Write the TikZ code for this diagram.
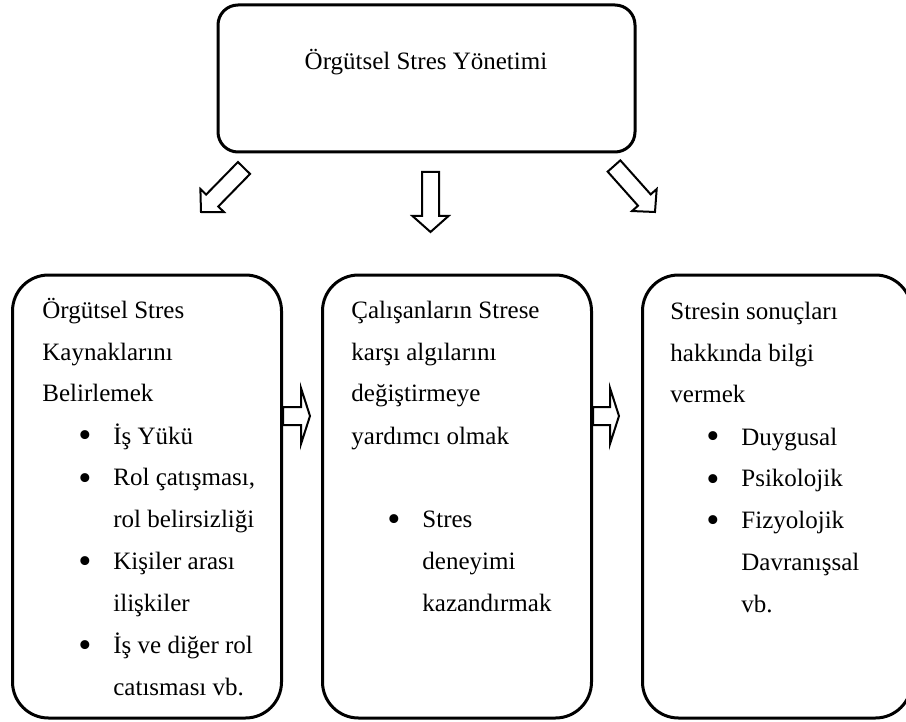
\documentclass[tikz,border=0pt]{standalone}
\usepackage{fontspec}
\usepackage{graphicx}
\setmainfont{Liberation Serif}
\usetikzlibrary{positioning, calc}

% bullet line and its continuation inside a box
\newcommand{\bigdot}{\raisebox{-2pt}{\scalebox{1.5}{\textbullet}}}
\newcommand{\itm}[1]{\hspace*{18pt}\makebox[17.5pt][l]{\bigdot}#1}
\newcommand{\cnt}[1]{\hspace*{35.5pt}#1}

% hollow block arrow: from, tip, shaft half width, head half width, head length
\newcommand{\hollowarrow}[5]{%
  \draw[blockarrow] ($(#1)!#3!90:(#2)$)
    -- ($(#2)!#5!(#1)!#3!90:(#2)$)
    -- ($(#2)!#5!(#1)!#4!90:(#2)$)
    -- (#2)
    -- ($(#2)!#5!(#1)!#4!-90:(#2)$)
    -- ($(#2)!#5!(#1)!#3!-90:(#2)$)
    -- ($(#1)!#3!-90:(#2)$) -- cycle;}

\begin{document}
\begin{tikzpicture}[
    x=0.5pt, y=-0.5pt,
    txt/.style={font=\fontsize{12.5}{21}\selectfont, inner sep=0pt},
    box/.style={rectangle, draw, line width=1.5pt, inner sep=0pt},
    topbox/.style={box, rounded corners=10pt,
                   minimum width=208.5pt, minimum height=73.5pt},
    colbox/.style={box, rounded corners=18pt,
                   minimum width=134.5pt, minimum height=221.5pt},
    blockarrow/.style={draw, line width=1pt, line join=miter},
]
\useasboundingbox (0,0) rectangle (906,722);

% --- top box ---
\node[topbox] (top) at (426.5,78.5) {};
\node[txt, anchor=base] (toptext) at (426,70) {Örgütsel Stres Yönetimi};

% --- three column boxes ---
\node[colbox] (left) at (147,496.5) {};
\node[colbox] (mid) at (457,496.5) {};
\node[colbox] (right) at (777,496.5) {};

% --- column texts ---
\node[txt, anchor=base west] (lefttext) at (42,318) {\parbox[t]{200pt}{\raggedright
    Örgütsel Stres\\
    Kaynaklarını\\
    Belirlemek\\
    \itm{İş Yükü}\\
    \itm{Rol çatışması,}\\
    \cnt{rol belirsizliği}\\
    \itm{Kişiler arası}\\
    \cnt{ilişkiler}\\
    \itm{İş ve diğer rol}\\
    \cnt{catısması vb.}}};

\node[txt, anchor=base west] (midtext) at (351,318) {\parbox[t]{200pt}{\raggedright
    Çalışanların Strese\\
    karşı algılarını\\
    değiştirmeye\\
    yardımcı olmak\\
    \mbox{}\\
    \itm{Stres}\\
    \cnt{deneyimi}\\
    \cnt{kazandırmak}}};

\node[txt, anchor=base west] (righttext) at (670,319) {\parbox[t]{200pt}{\raggedright
    Stresin sonuçları\\
    hakkında bilgi\\
    vermek\\
    \itm{Duygusal}\\
    \itm{Psikolojik}\\
    \itm{Fizyolojik}\\
    \cnt{Davranışsal}\\
    \cnt{vb.}}};

% --- arrow ends ---
\coordinate (dl0) at (244,168);
\coordinate (dl1) at (201,212);
\coordinate (dm0) at (430.5,172);
\coordinate (dm1) at (430.5,232);
\coordinate (dr0) at (614,166);
\coordinate (dr1) at (655,212);
\coordinate (s10) at ($(left.east |- 0,416)$);
\coordinate (s11) at (310,416);
\coordinate (s20) at ($(mid.east |- 0,416)$);
\coordinate (s21) at (619,416);

% ============== arrows ==============
\hollowarrow{dl0}{dl1}{4.25pt}{8.25pt}{8pt}
\hollowarrow{dm0}{dm1}{4.25pt}{9pt}{8pt}
\hollowarrow{dr0}{dr1}{4.25pt}{8.25pt}{8pt}
\hollowarrow{s10}{s11}{4.5pt}{14pt}{4.5pt}
\hollowarrow{s20}{s21}{4.5pt}{14pt}{4.5pt}

\end{tikzpicture}
\end{document}
